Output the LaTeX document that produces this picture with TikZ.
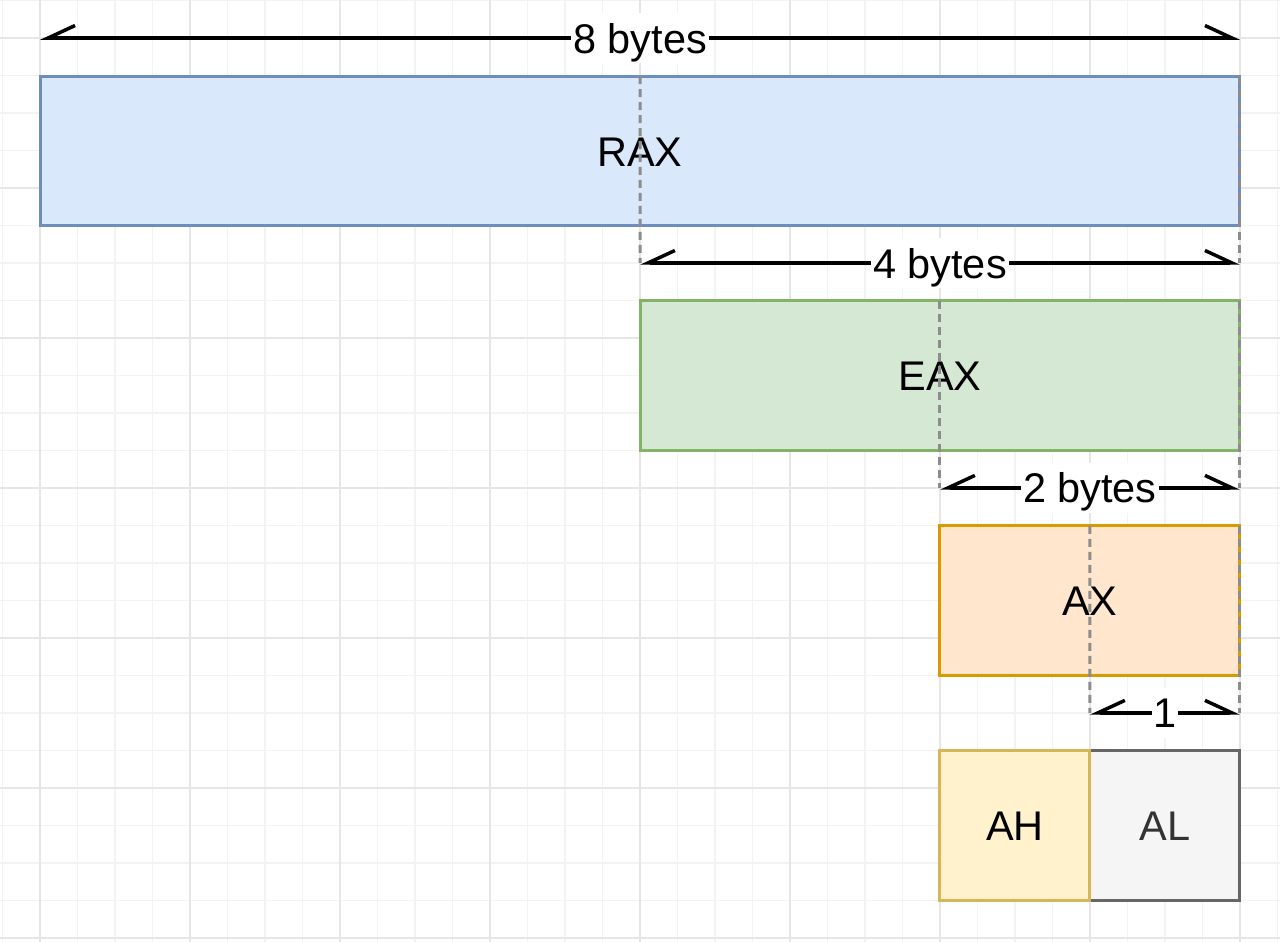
\documentclass[tikz,border=0pt]{standalone}
\usepackage{fontspec}
\setmainfont{Liberation Sans}
\usetikzlibrary{positioning}
\usetikzlibrary{arrows.meta}

\definecolor{raxfill}{HTML}{DAE8FC}
\definecolor{raxline}{HTML}{6C8EBF}
\definecolor{eaxfill}{HTML}{D5E8D4}
\definecolor{eaxline}{HTML}{82B366}
\definecolor{axfill}{HTML}{FFE6CC}
\definecolor{axline}{HTML}{D79B00}
\definecolor{ahfill}{HTML}{FFF2CC}
\definecolor{ahline}{HTML}{D6B656}
\definecolor{alfill}{HTML}{F5F5F5}
\definecolor{alline}{HTML}{666666}
\definecolor{altext}{HTML}{333333}
\definecolor{minorgrid}{HTML}{F3F3F3}
\definecolor{majorgrid}{HTML}{E6E6E6}
\definecolor{guidegray}{HTML}{8C8C8C}

\begin{document}
\begin{tikzpicture}[x=0.02cm,y=-0.02cm,
		reg/.style={draw, line width=0.06cm, minimum height=3cm, inner sep=0pt, outer sep=0pt,
			text height=17.1pt, text depth=0pt, font=\fontsize{23.6}{28}\selectfont},
		dim/.style={line width=0.07cm,
			{Straight Barb[harpoon,swap,length=0.54cm,width=0.5cm]}-{Straight Barb[harpoon,length=0.54cm,width=0.5cm]}},
		dimlabel/.style={midway, fill=white, inner xsep=1pt, inner ysep=0pt,
			text height=23pt, text depth=5.9pt, font=\fontsize{23.6}{28}\selectfont},
		guide/.style={draw=guidegray, line width=0.06cm, dash pattern=on 0.16cm off 0.1cm}]
	
	\useasboundingbox (0,0) rectangle (1280,942);
	\fill[white] (0,0) rectangle (1280,942);
	
	% grid
	\foreach \k in {0,...,34} \draw[minorgrid, line width=0.03cm] (2.5+37.5*\k,0) -- (2.5+37.5*\k,942);
	\foreach \k in {0,...,25} \draw[minorgrid, line width=0.03cm] (0,0.5+37.5*\k) -- (1280,0.5+37.5*\k);
	\foreach \k in {0,...,8} \draw[majorgrid, line width=0.03cm] (40+150*\k,0) -- (40+150*\k,942);
	\foreach \k in {0,...,6} \draw[majorgrid, line width=0.03cm] (0,38+150*\k) -- (1280,38+150*\k);
	
	% registers
	\node[reg, fill=raxfill, draw=raxline, minimum width=24cm] (rax) at (640,151) {RAX};
	\node[reg, fill=eaxfill, draw=eaxline, minimum width=12cm, below=1.5cm of rax.south east, anchor=north east] (eax) {EAX};
	\node[reg, fill=axfill, draw=axline, minimum width=6cm, below=1.5cm of eax.south east, anchor=north east] (ax) {AX};
	\node[reg, fill=alfill, draw=alline, text=altext, minimum width=3cm, below=1.5cm of ax.south east, anchor=north east] (al) {AL};
	\node[reg, fill=ahfill, draw=ahline, minimum width=3cm, left=0cm of al] (ah) {AH};
	
	% ends of the size arrows
	\coordinate (d8a) at ([yshift=0.76cm]rax.north west);
	\coordinate (d8b) at ([yshift=0.76cm]rax.north east);
	\coordinate (d4a) at ([yshift=0.76cm]eax.north west);
	\coordinate (d4b) at ([yshift=0.76cm]eax.north east);
	\coordinate (d2a) at ([yshift=0.76cm]ax.north west);
	\coordinate (d2b) at ([yshift=0.76cm]ax.north east);
	\coordinate (d1a) at ([yshift=0.76cm]al.north west);
	\coordinate (d1b) at ([yshift=0.76cm]al.north east);
	
	% dashed guides
	\draw[guide] (rax.north) -- (d4a);
	\draw[guide] (rax.north east) -- (d4b);
	\draw[guide] (eax.north) -- (d2a);
	\draw[guide] (eax.north east) -- (d2b);
	\draw[guide] (ax.north) -- (d1a);
	\draw[guide] (ax.north east) -- (d1b);
	
	% sizes
	\draw[dim] (d8a) -- (d8b) node[dimlabel] (l8) {8 bytes};
	\draw[dim] (d4a) -- (d4b) node[dimlabel] (l4) {4 bytes};
	\draw[dim] (d2a) -- (d2b) node[dimlabel] (l2) {2 bytes};
	\draw[dim] (d1a) -- (d1b) node[dimlabel] (l1) {1};
	
\end{tikzpicture}
\end{document}
